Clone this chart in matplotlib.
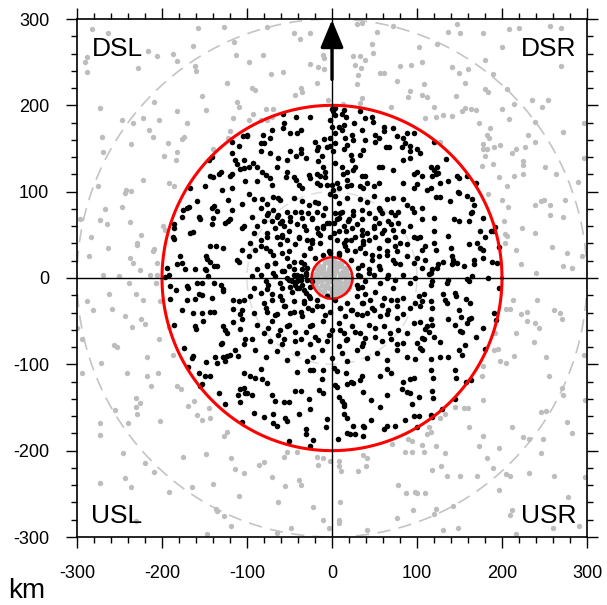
import numpy as np
import matplotlib
matplotlib.use("Agg")
import matplotlib.pyplot as plt

plt.rcParams['font.family'] = ['Liberation Sans', 'DejaVu Sans']
plt.rcParams['axes.unicode_minus'] = False

# storm-relative positions (km)
black_pts = [
    # upper left
    (-118,157),(-109,153),(-105,164),(-100,166),(-141,140),(-145,137),(-118,145),(-114,137),
    (-112,132),(-104,137),(-108,126),(-104,127),(-118,121),(-120,118),(-131,123),(-133,121),
    (-143,118),(-140,117),(-167,104),(-149,106),(-129,102),(-118,104),(-102,112),
    # upper centre
    (0,196),(3,197),(1,193),(3,189),(-2,183),(14,195),(17,187),(12,190),(33,194),(26,179),
    (39,185),(47,187),(48,181),(-58,190),(-42,186),(-26,186),(-57,179),(-58,174),(-37,172),
    (-41,168),(-49,168),(-71,172),(-73,162),(-81,166),(-84,156),(-80,156),(-100,164),
    (0,175),(4,168),(-2,162),(3,156),(-2,153),(1,147),(8,175),(12,172),(14,177),(23,166),
    (25,160),(15,162),(18,154),(14,150),(35,172),(51,166),(55,162),(51,158),(61,175),(61,170),
    (72,174),(76,164),(84,162),(88,168),(96,168),(82,152),(86,156),(92,153),(92,147),(63,152),
    (67,152),(39,160),(36,148),(33,143),(-9,161),(-6,152),(-20,158),(-16,152),(-18,148),
    (-36,150),(-37,145),(-49,147),(-73,145),(-84,147),(-63,139),(-53,137),(-42,141),(-30,139),
    (-12,141),(-16,135),(-10,129),(-8,123),(4,133),(22,143),(23,137),(27,129),(25,125),
    (12,129),(18,123),(13,121),(35,118),(39,118),(41,110),(55,129),(59,129),(72,125),(84,137),
    (92,139),(96,121),(55,110),(49,106),(84,110),(96,104),(-93,133),(-88,129),(-82,123),
    (-78,119),(-88,112),(-73,116),(-71,108),(-65,129),(-53,123),(-54,117),(-45,117),(-42,114),
    (-27,119),(-26,116),(-18,121),(-14,118),(-8,117),(-39,108),(-35,104),(-18,110),(-14,108),
    (-6,108),(0,108),(1,102),(6,110),(8,104),(18,114),(22,108),(18,106),(33,106),(37,104),
    (-98,129),
    # upper right
    (120,158),(100,149),(104,145),(134,138),(116,129),(120,125),(124,129),(125,122),(122,121),
    (118,118),(100,123),(106,118),(100,109),(147,118),(149,116),(159,118),(137,112),(127,110),
    (116,104),(112,102),(148,100),(169,110),
    # middle left
    (-159,89),(-171,81),(-168,82),(-175,79),(-157,71),(-155,68),(-141,81),(-139,83),(-135,78),
    (-140,70),(-141,63),(-122,90),(-118,79),(-126,64),(-122,66),(-120,68),(-106,86),(-104,60),
    (-106,58),(-186,62),(-186,58),(-187,48),(-186,45),(-177,71),(-167,52),(-163,53),(-143,37),
    (-137,37),(-148,26),(-147,22),(-144,19),(-179,26),(-176,17),(-173,10),(-182,16),(-161,10),
    (-194,12),(-149,10),(-148,9),(-146,2),(-139,14),(-135,14),(-112,21),(-109,19),(-106,33),
    (-128,35),(-197,1),(-192,3),(-190,-9),(-184,-14),(-191,-24),(-171,-9),(-169,-12),(-159,-6),
    (-153,-6),(-139,-6),(-130,-8),(-128,-13),(-128,-15),(-171,-25),(-161,-24),(-156,-19),
    (-153,-20),(-141,-23),(-116,-25),(-109,-27),(-104,-26),(-106,-37),(-177,-37),(-163,-40),
    (-153,-40),(-143,-39),(-139,-39),(-116,-36),(-108,-42),(-106,-48),(-186,-54),(-161,-56),
    (-160,-59),(-152,-50),(-128,-56),(-126,-60),(-124,-64),(-116,-51),(-108,-59),(-174,-81),
    (-163,-90),(-165,-93),(-148,-97),(-138,-91),(-131,-77),(-129,-75),(-128,-91),(-124,-90),
    (-120,-89),(-135,-98),(-126,-96),(-114,-83),(-110,-90),(-104,-77),(-102,-71),
    # centre
    (-98,97),(-92,91),(-82,92),(-76,86),(-84,81),(-69,94),(-63,93),(-61,90),(-45,93),(-35,89),
    (-27,85),(-20,88),(-16,87),(-8,81),(-2,97),(4,95),(8,87),(4,75),(10,75),(18,93),(33,91),
    (41,88),(49,95),(55,81),(65,91),(72,93),(84,91),(88,85),(94,81),(96,77),(78,77),(69,77),
    (59,75),(25,78),(35,79),(-37,77),(-53,77),(-76,73),(-65,71),(-94,71),
    (-88,60),(-92,52),(-71,66),(-61,64),(-57,60),(-49,66),(-41,62),(-33,60),(-24,70),(-18,58),
    (-10,60),(-6,64),(2,64),(6,68),(14,60),(16,54),(20,68),(29,62),(35,56),(41,52),(49,60),
    (55,64),(61,56),(69,62),(74,48),(84,54),(92,60),(96,48),(-84,44),(-76,48),(-65,48),(-59,50),
    (-53,44),(-39,48),(-29,44),(-24,41),(-14,50),(2,52),(6,44),(14,41),(22,44),(27,48),(37,43),
    (51,48),(65,44),(80,41),(88,39),(-96,41),
    (-98,25),(-90,33),(-84,37),(-73,31),(-67,17),(-59,29),(-53,23),(-37,19),(-33,16),(-29,12),
    (-20,23),(-10,27),(-2,29),(8,29),(18,33),(22,21),(33,35),(39,29),(47,21),(55,25),(65,31),
    (72,21),(80,16),(96,17),(88,25),(-76,14),(-88,10),(-45,10),(31,12),(43,10),(57,10),(76,31),
    (-94,2),(-84,4),(-78,-4),(-69,6),(-61,-6),(-53,0),(-45,4),(-41,-4),(-37,2),(-35,-8),(-31,6),
    (-29,-2),(-26,-10),(-41,-12),(-49,-10),(33,2),(39,-4),(49,4),(57,-6),(65,0),(74,-2),(84,4),
    (92,-6),(98,0),(35,-10),(29,-8),(-76,-13),(-92,-12),(-47,-4),(-33,-14),(-24,-4),(-57,8),
    (-96,-21),(-84,-17),(-80,-29),(-71,-25),(-61,-21),(-57,-33),(-45,-27),(-33,-29),(-27,-21),
    (-18,-25),(-12,-33),(-6,-21),(4,-25),(10,-35),(18,-29),(22,-37),(29,-21),(37,-29),(45,-25),
    (49,-37),(59,-31),(69,-25),(76,-33),(84,-23),(92,-35),(98,-29),(-92,-40),(-76,-39),(-65,-42),
    (-49,-40),(-37,-39),(-24,-37),(-2,-39),(29,-42),(41,-40),(65,-42),(84,-42),
    (-88,-54),(-80,-64),(-71,-50),(-61,-60),(-51,-54),(-43,-62),(-37,-71),(-26,-56),(-20,-68),
    (-10,-50),(0,-60),(8,-52),(14,-64),(18,-71),(23,-56),(33,-64),(43,-54),(51,-68),(61,-56),
    (69,-71),(78,-60),(88,-64),(96,-52),(-94,-71),(-73,-73),(-57,-71),(-6,-73),(37,-75),(84,-75),
    (-90,-83),(-78,-91),(-65,-85),(-53,-95),(-41,-87),(-29,-96),(-22,-91),(-12,-83),(0,-93),
    (12,-87),(18,-96),(29,-83),(41,-93),(53,-87),(65,-95),(76,-83),(88,-91),(98,-94),
    # centre, second pass
    (-80,66),(-75,75),(-69,79),(-63,73),(-59,66),(-49,71),(-43,77),(-35,70),(-28,75),(-24,68),
    (-18,77),(-10,73),(-4,64),(8,70),(12,77),(19,66),(25,73),(35,68),(43,75),(51,70),(57,79),
    (66,66),(74,73),(78,64),(-77,52),(-67,58),(-59,48),(-51,54),(-39,46),(-31,56),(-24,44),
    (-16,52),(-10,58),(-2,48),(8,54),(17,44),(23,58),(35,50),(43,44),(49,58),(59,52),(66,44),
    (72,56),(-78,35),(-69,27),(-61,39),(-51,31),(-43,39),(-33,27),(-26,35),(-14,41),(-4,31),
    (8,27),(15,37),(27,31),(37,39),(47,27),(55,35),(65,27),(74,37),(-77,15),(-67,17),(-59,8),
    (-51,14),(-45,19),(-41,4),(-35,10),(-31,4),(-37,-2),(-43,-8),(-51,-2),(-59,-12),(-67,2),
    (-75,-8),(35,15),(43,6),(55,14),(66,4),(74,17),(31,4),(-71,-19),(-59,-25),(-47,-16),
    (-39,-12),(-31,-17),(-26,-23),(-33,-27),(31,-12),(39,-19),(51,-16),(61,-23),(72,-12),
    (76,-25),(35,-29),(-78,-35),(-67,-43),(-55,-33),(-45,-39),(-35,-44),(-28,-35),(-18,-33),
    (-8,-43),(10,-35),(15,-44),(23,-37),(35,-43),(47,-35),(57,-44),(66,-37),(76,-46),(-75,-58),
    (-63,-66),(-53,-56),(-43,-73),(-31,-62),(-24,-54),(-16,-72),(-4,-66),(10,-60),(17,-72),
    (27,-62),(39,-70),(51,-58),(59,-73),(68,-64),(76,-77),(-59,-77),(-26,-77),(8,-79),(35,-79),
    # middle right
    (127,94),(122,94),(149,98),(159,95),(165,91),(167,84),(165,77),(164,75),(139,89),(106,81),
    (106,68),(120,70),(143,68),(149,66),(161,66),(178,70),(192,59),(187,55),(180,48),(174,54),
    (190,54),(136,49),(120,54),(104,48),(110,37),(106,33),(122,32),(120,41),(140,35),(141,25),
    (142,21),(161,39),(171,40),(174,35),(178,33),(196,36),(178,23),(188,19),(194,17),(167,21),
    (167,16),(155,14),(147,17),(141,16),(131,18),(125,16),(124,12),(118,10),(116,6),(114,5),
    (106,12),(110,21),(100,23),(100,46),(159,-1),(161,-3),(165,2),(183,0),(137,-2),(135,-6),
    (116,-8),(118,-4),(197,-12),(102,-21),(108,-19),(106,-27),(104,-33),(116,-27),(118,-35),
    (131,-19),(135,-29),(133,-25),(145,-17),(146,-21),(158,-24),(162,-29),(149,-37),(137,-48),
    (152,-45),(161,-47),(163,-46),(159,-52),(145,-54),(151,-61),(153,-62),(178,-58),(170,-68),
    (191,-40),(193,-49),(116,-48),(118,-54),(112,-56),(110,-59),(114,-62),(104,-51),(106,-69),
    (108,-71),(120,-68),(127,-74),(100,-75),(104,-81),(106,-83),(150,-83),(153,-89),(157,-78),
    (180,-82),(127,-91),(137,-91),(116,-94),
    # lower left
    (-169,-103),(-157,-110),(-149,-114),(-143,-114),(-153,-123),(-155,-125),(-133,-133),
    (-126,-146),(-108,-128),(-110,-135),(-104,-127),(-102,-133),(-108,-144),(-106,-167),
    (-104,-110),
    # lower centre
    (-84,-105),(-90,-116),(-96,-114),(-82,-117),(-76,-122),(-41,-109),(-26,-106),(-22,-106),
    (-12,-117),(-11,-106),(2,-104),(6,-108),(16,-110),(4,-124),(6,-126),(18,-123),(22,-121),
    (25,-122),(35,-114),(33,-118),(57,-113),(65,-105),(69,-110),(84,-121),(96,-116),(92,-117),
    (82,-128),(88,-132),(92,-133),(-94,-135),(-71,-136),(-67,-143),(-57,-144),(-51,-144),
    (-43,-131),(-37,-131),(-27,-140),(-15,-130),(-11,-133),(8,-138),(12,-143),(14,-146),
    (14,-148),(37,-132),(46,-141),(57,-149),(65,-136),(94,-146),(-92,-156),(-80,-161),
    (-69,-158),(-69,-168),(-65,-172),(-55,-162),(-53,-166),(-39,-158),(-26,-152),(-6,-163),
    (-7,-173),(14,-158),(18,-162),(25,-171),(37,-171),(38,-173),(46,-165),(61,-175),(65,-171),
    (74,-172),(86,-165),(96,-160),(-31,-175),(-30,-181),(-22,-188),(-51,-189),(-26,-195),
    (7,-186),(18,-180),(21,-181),(27,-181),(37,-183),(-100,-133),
    # lower right
    (116,-107),(119,-116),(145,-107),(146,-116),(158,-121),(163,-118),(118,-131),(119,-139),
    (102,-138),(145,-140),(129,-152),(116,-159),(118,-161),(102,-160),(100,-173),
]

gray_pts = [
    # upper left
    (-282,288),(-264,284),(-158,290),(-127,291),(-163,269),(-288,256),(-290,250),(-288,239),
    (-216,263),(-206,257),(-187,259),(-182,251),(-161,245),(-160,240),(-228,243),(-115,273),
    (-113,258),(-124,226),(-153,211),(-112,204),(-109,198),(-209,204),(-273,197),(-247,183),
    (-234,180),(-222,185),(-203,183),(-182,193),(-148,195),(-117,185),(-215,172),(-211,163),
    (-171,180),(-174,163),(-177,161),(-193,156),(-237,155),(-271,163),(-269,146),(-182,146),
    (-198,141),(-140,150),(-120,170),(-122,162),(-222,114),(-192,110),(-186,106),(-242,102),
    (-237,101),(-275,106),(-183,137),
    # upper centre
    (-76,291),(-45,284),(-26,284),(-38,277),(-81,258),(-98,250),(-72,236),(-58,239),(-26,248),
    (-17,244),(-9,242),(-11,258),(-9,255),(-18,226),(-94,220),(-90,218),(-36,220),(-35,215),
    (-43,212),(-5,206),(-78,196),(-69,196),(-93,190),(-98,183),(13,202),(33,203),(35,208),
    (34,243),(27,247),(25,257),(33,257),(31,235),(30,225),(39,252),(47,271),(48,261),(29,294),
    (35,295),(53,285),(72,292),(93,247),(80,245),(57,238),(61,238),(76,228),(92,217),(90,210),
    (69,198),(-71,187),(-76,183),(-84,183),
    # upper right
    (147,294),(137,285),(151,284),(178,284),(208,288),(220,290),(257,292),(269,290),(124,271),
    (102,268),(200,267),(106,250),(141,244),(150,238),(160,242),(180,252),(190,236),(269,246),
    (157,226),(108,225),(180,219),(184,215),(206,219),(106,212),(112,210),(146,211),(120,198),
    (153,193),(157,197),(163,196),(169,195),(214,202),(235,206),(254,206),(247,198),(200,196),
    (131,189),(141,188),(110,185),(122,187),(208,184),(239,181),(297,179),(173,180),(186,174),
    (182,166),(185,162),(178,155),(178,149),(182,150),(191,152),(198,154),(231,166),(239,157),
    (272,169),(227,152),(212,145),(217,149),(180,141),(176,130),(190,132),(225,136),(225,131),
    (251,129),(296,139),(197,117),(206,107),(214,118),(225,121),(264,121),(289,111),(127,158),
    # middle left
    (-296,68),(-267,80),(-273,67),(-265,63),(-247,82),(-243,98),(-238,65),(-284,48),(-286,26),
    (-264,35),(-229,41),(-229,38),(-225,50),(-211,31),(-209,34),(-238,23),(-234,17),(-199,60),
    (-197,56),(-206,17),(-269,4),(-250,2),(-226,9),(-214,4),(-206,3),(-239,-6),(-207,-6),
    (-262,-18),(-231,-19),(-222,-25),(-202,-27),(-288,-27),(-281,-37),(-259,-36),(-243,-44),
    (-225,-47),(-220,-53),(-235,-57),(-300,-58),(-192,-57),(-294,-71),(-256,-78),(-253,-80),
    (-203,-71),(-218,-91),(-272,-98),(-187,-89),
    # middle right
    (184,97),(200,90),(207,82),(202,66),(204,51),(206,49),(203,41),(216,32),(223,58),(239,52),
    (239,85),(249,90),(246,89),(257,85),(256,73),(274,90),(272,71),(259,36),(276,29),(294,25),
    (222,16),(240,6),(272,14),(282,12),(213,-26),(205,-36),(209,-36),(241,-25),(222,-42),
    (229,-39),(230,-50),(239,-52),(244,-58),(261,-37),(268,-41),(271,-47),(216,-64),(238,-74),
    (195,-82),(191,-83),(198,-96),(205,-98),(214,-90),(252,-91),(296,-89),(192,-64),
    # lower left
    (-294,-110),(-241,-110),(-218,-113),(-205,-110),(-213,-125),(-182,-125),(-178,-129),
    (-169,-148),(-162,-143),(-145,-150),(-159,-159),(-153,-165),(-143,-162),(-231,-139),
    (-226,-145),(-230,-149),(-229,-158),(-255,-153),(-202,-166),(-273,-168),(-240,-168),
    (-273,-182),(-124,-178),(-127,-183),(-246,-203),(-175,-207),(-148,-204),(-119,-209),
    (-220,-214),(-114,-221),(-103,-226),(-209,-225),(-243,-232),(-237,-242),(-273,-238),
    (-165,-242),(-140,-239),(-192,-248),(-109,-252),(-137,-267),(-135,-270),(-127,-276),
    (-230,-281),(-119,-287),(-147,-297),
    # lower centre
    (-53,-202),(-56,-207),(-41,-202),(-80,-213),(-86,-217),(-18,-207),(-17,-217),(-10,-208),
    (-2,-212),(8,-212),(8,-218),(11,-224),(31,-224),(37,-205),(41,-208),(40,-218),(71,-192),
    (90,-187),(94,-189),(86,-202),(94,-202),(-71,-230),(-55,-241),(-39,-234),(-36,-240),
    (78,-240),(87,-249),(98,-248),(-63,-260),(-22,-265),(9,-259),(-10,-280),(8,-280),(8,-284),
    (-3,-290),(-48,-289),(-65,-295),(41,-292),(76,-278),(95,-269),
    # lower right
    (178,-102),(176,-114),(178,-141),(155,-151),(160,-151),(145,-149),(133,-158),(127,-162),
    (114,-173),(116,-178),(112,-181),(161,-173),(106,-193),(122,-195),(108,-202),(133,-203),
    (178,-183),(173,-195),(182,-208),(197,-197),(212,-173),(225,-184),(232,-186),(248,-187),
    (246,-203),(246,-155),(252,-154),(255,-114),(271,-127),(272,-136),(298,-141),(276,-167),
    (282,-180),(128,-218),(118,-222),(135,-229),(151,-229),(171,-229),(189,-220),(205,-227),
    (209,-229),(232,-226),(261,-229),(298,-230),(109,-249),(100,-249),(197,-246),(122,-267),
    (120,-273),(142,-264),(212,-269),(209,-275),(278,-254),(291,-287),(260,-290),(148,-289),
    (131,-292),(216,-297),
]

# gray points packed inside the inner ring
core_pts = [
    (-20,5),(-15,12),(-8,18),(0,20),(8,17),(15,12),(20,4),(18,-6),(12,-14),(4,-19),(-5,-20),
    (-13,-15),(-19,-6),(-10,5),(-3,10),(5,8),(10,0),(4,-8),(-6,-7),(-12,-2),(0,0),(-16,-12),
    (14,-10),(-2,14),(9,-18),(-9,-16),(16,8),(-18,10),(2,-13),(-4,3),(7,-3),(12,7),(-11,14),
    (-22,0),(22,-2),(0,-22),(1,21),(-7,-1),(6,13),(-14,6),
    (-17,15),(-10,10),(-4,17),(4,14),(11,14),(17,0),(14,3),(20,-10),(15,-16),(8,-10),(0,-16),
    (-8,-12),(-16,-4),(-21,-8),(-6,6),(2,4),(-2,-4),(6,-14),(-12,-8),(-18,2),(10,-6),(3,18),
    (-14,-18),(18,12),(-6,21),(12,19),(-20,12),(5,-4),(-9,1),(0,8),(15,-5),(-3,-12),(9,5),
    (-15,-1),(19,-13),
]

red_rings = [24, 200]
gray_rings = [100, 300]
corner_labels = ["DSL", "DSR", "USL", "USR"]

bx, by = np.array(black_pts).T
gx, gy = np.array(gray_pts).T
cx, cy = np.array(core_pts).T

fig = plt.figure(figsize=(6.07, 6.05), dpi=100)
ax = fig.add_axes([77/607, 1-537/605, 510/607, 518/605])

ax.scatter(gx, gy, s=15, color='#bdbdbd', linewidths=0, zorder=2)
ax.scatter(cx, cy, s=17, color='#bdbdbd', linewidths=0, zorder=2)
ax.scatter(bx, by, s=16, color='black', linewidths=0, zorder=3)

th = np.linspace(0, 2*np.pi, 400)
ax.plot(gray_rings[1]*np.cos(th), gray_rings[1]*np.sin(th), color='#c4c4c4',
        lw=1.2, dashes=(8, 5), zorder=1)
ax.plot(gray_rings[0]*np.cos(th), gray_rings[0]*np.sin(th), color='#dcdcdc',
        lw=1.0, dashes=(8, 5), zorder=1)
for r in red_rings:
    ax.plot(r*np.cos(th), r*np.sin(th), color='red', lw=2.2 if r > 50 else 1.8, zorder=4)

ax.axhline(0, color='black', lw=1, zorder=5)
ax.axvline(0, color='black', lw=1, zorder=5)

ax.annotate('', xy=(0, 299), xytext=(0, 230),
            arrowprops=dict(arrowstyle='-|>,head_length=1.2,head_width=0.5',
                            mutation_scale=14, lw=2.4, color='black',
                            shrinkA=0, shrinkB=0), zorder=6)

ax.text(-283, 257, corner_labels[0], fontsize=19, ha='left', va='baseline')
ax.text(288, 257, corner_labels[1], fontsize=19, ha='right', va='baseline')
ax.text(-283, -284, corner_labels[2], fontsize=19, ha='left', va='baseline')
ax.text(288, -284, corner_labels[3], fontsize=19, ha='right', va='baseline')

ax.set_xlim(-300, 300)
ax.set_ylim(-300, 300)
ticks = np.arange(-300, 301, 100)
ax.set_xticks(ticks)
ax.set_yticks(ticks)
ax.set_xticks(np.arange(-300, 301, 20), minor=True)
ax.set_yticks(np.arange(-300, 301, 20), minor=True)
ax.tick_params(which='both', direction='out', top=True, right=True, width=1)
ax.tick_params(which='major', length=8, labelsize=13, pad=12)
ax.tick_params(which='minor', length=4)
for s in ax.spines.values():
    s.set_linewidth(1.2)

fig.text(8/607, 1-598/605, 'km', fontsize=20, ha='left', va='baseline')

fig.savefig('out.png', dpi=100)
